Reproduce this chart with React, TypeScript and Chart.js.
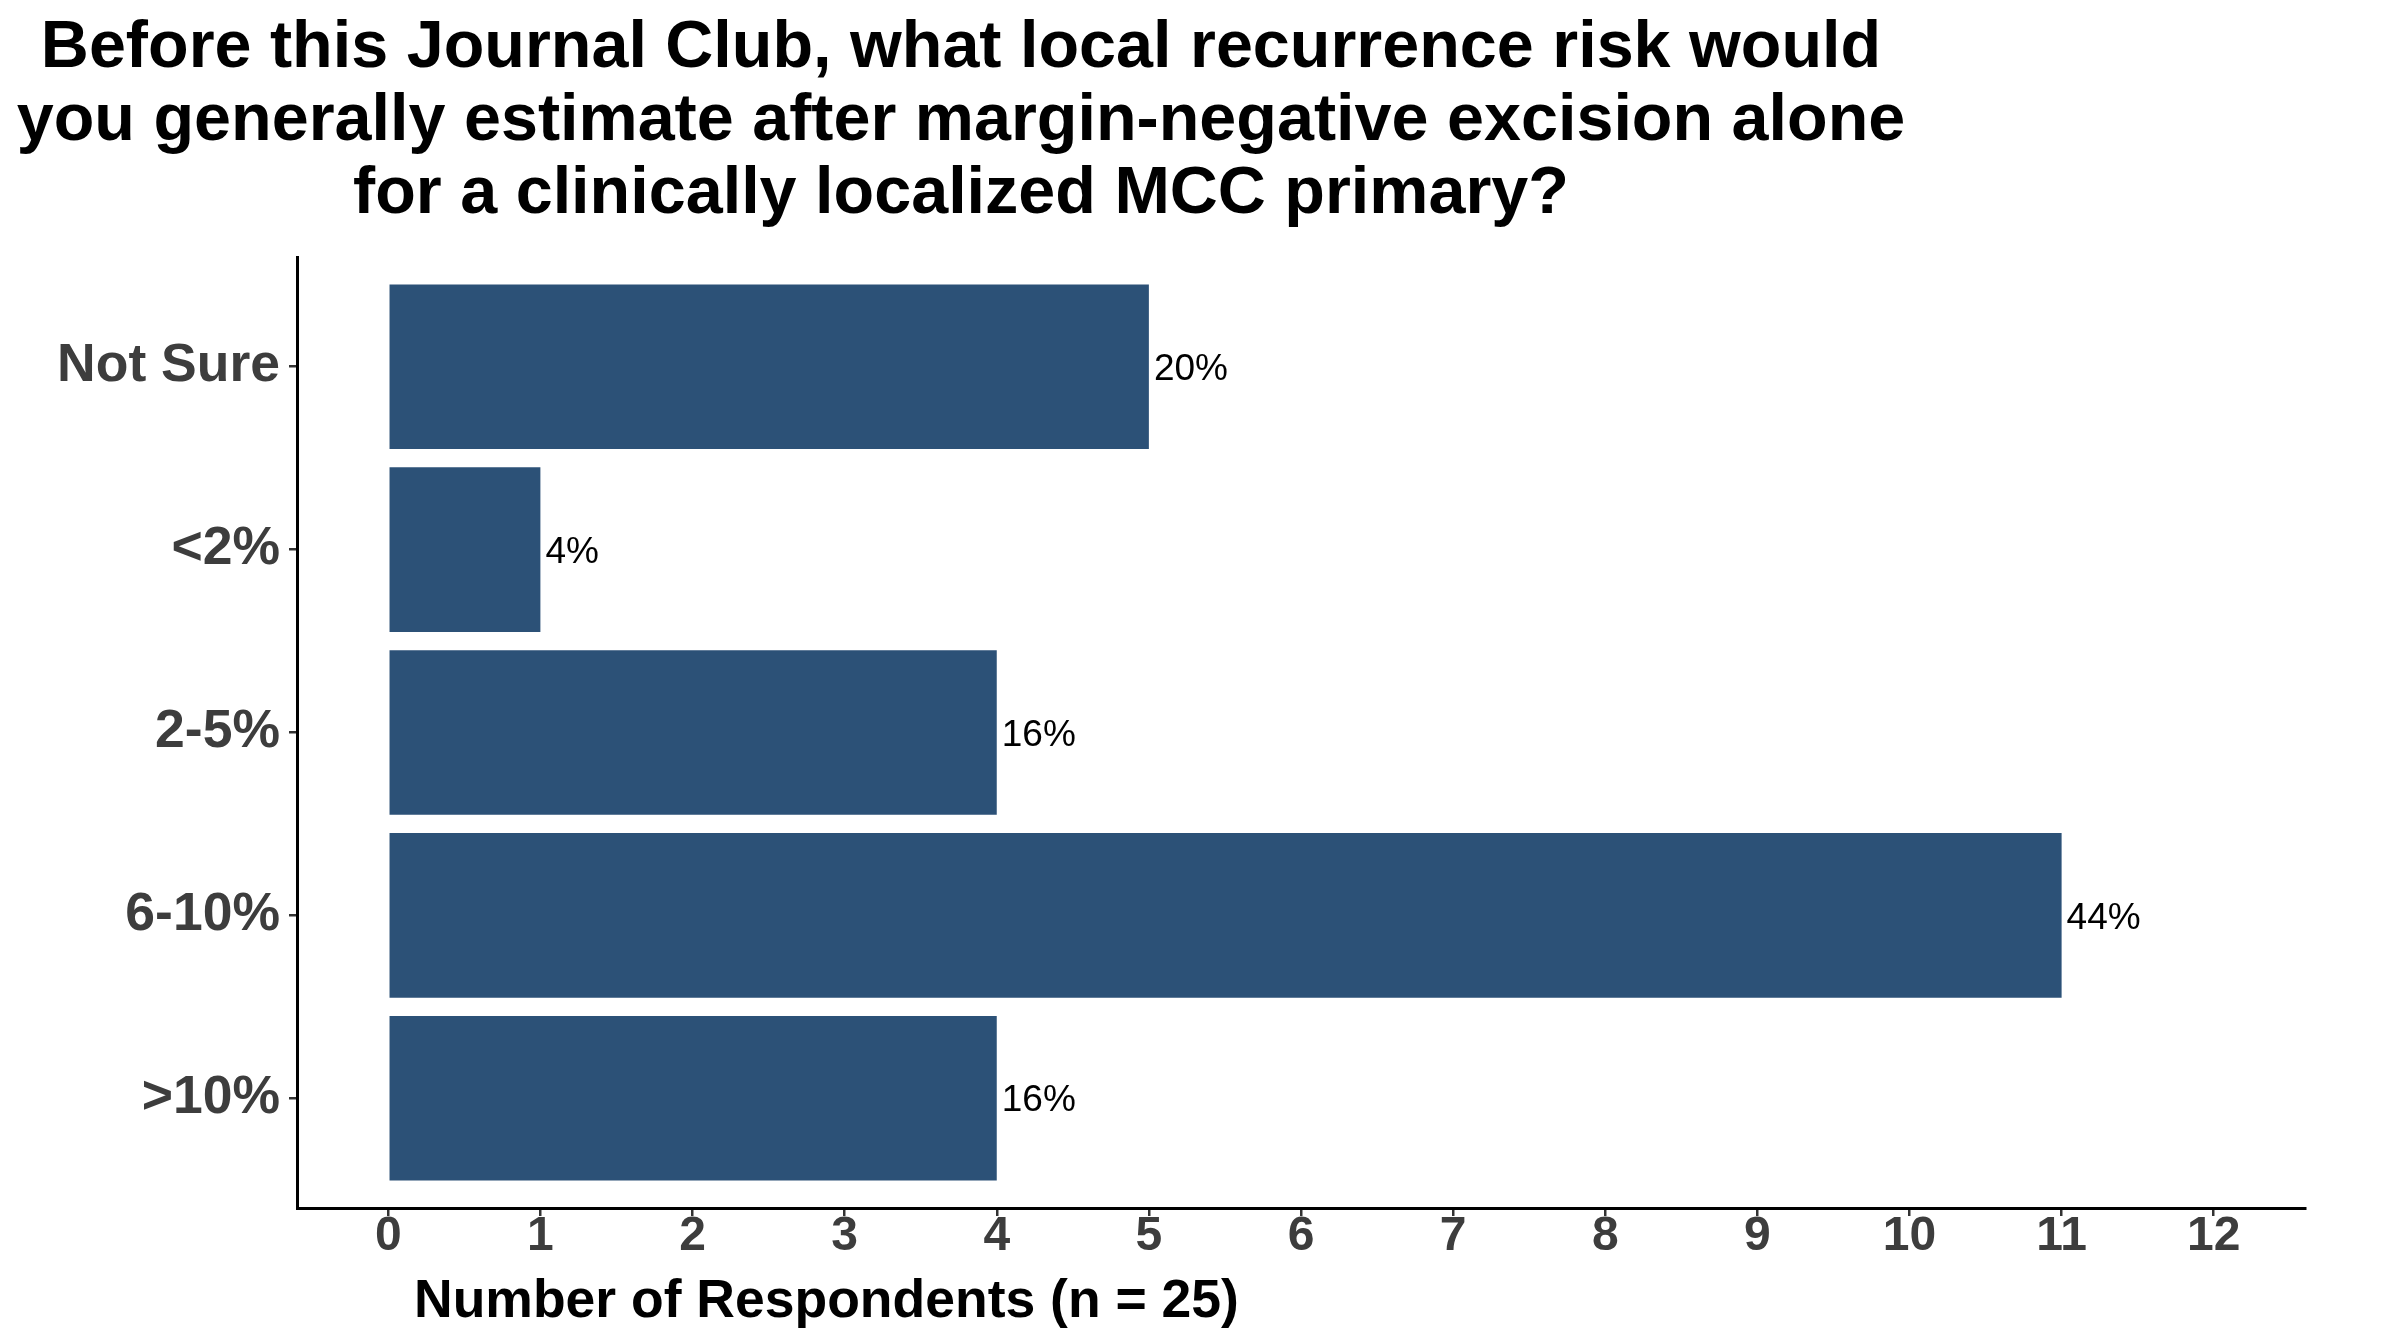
import { useEffect, useRef } from 'react'
import { Chart, registerables } from 'chart.js'

Chart.register(...registerables)

const FONT = '"Liberation Sans", Arial, Helvetica, sans-serif'

const titleLines = [
  'Before this Journal Club, what local recurrence risk would',
  'you generally estimate after margin-negative excision alone',
  'for a clinically localized MCC primary?'
]
const xTitle = 'Number of Respondents (n = 25)'
const totalRespondents = 25

const categories = ['Not Sure', '<2%', '2-5%', '6-10%', '>10%']
const counts = [5, 1, 4, 11, 4]
const xTicks = [0, 1, 2, 3, 4, 5, 6, 7, 8, 9, 10, 11, 12]

const textPlugin = {
  id: 'textPlugin',
  afterDatasetsDraw(chart) {
    const ctx = chart.ctx
    const meta = chart.getDatasetMeta(0)
    ctx.save()
    ctx.font = `37px ${FONT}`
    ctx.fillStyle = '#000'
    ctx.textAlign = 'left'
    ctx.textBaseline = 'middle'
    meta.data.forEach((bar, i) => {
      const pct = Math.round((counts[i] / totalRespondents) * 100) + '%'
      ctx.fillText(pct, bar.x + 5, bar.y + 3)
    })
    ctx.restore()
  },
  afterDraw(chart) {
    const ctx = chart.ctx
    ctx.save()
    ctx.fillStyle = '#000'
    ctx.textBaseline = 'alphabetic'
    ctx.font = `bold 66.5px ${FONT}`
    ctx.textAlign = 'center'
    titleLines.forEach((line, i) => {
      ctx.fillText(line, 961, 67 + i * 73)
    })
    ctx.font = `bold 53.5px ${FONT}`
    ctx.textAlign = 'left'
    ctx.fillText(xTitle, 414, 1317)
    ctx.restore()
  }
}

export default function App() {
  const canvasRef = useRef(null)

  useEffect(() => {
    const ctx = canvasRef.current.getContext('2d')
    const chart = new Chart(ctx, {
      type: 'bar',
      data: {
        datasets: [
          {
            data: categories.map((c, i) => ({ x: counts[i], y: i + 1 })),
            backgroundColor: '#2c5177',
            borderWidth: 0,
            barPercentage: 0.9,
            categoryPercentage: 1
          }
        ]
      },
      options: {
        indexAxis: 'y',
        animation: false,
        responsive: false,
        devicePixelRatio: 1,
        layout: { padding: { left: 0, top: 257, right: 95, bottom: 0 } },
        plugins: {
          legend: { display: false },
          tooltip: { enabled: false },
          title: { display: false }
        },
        scales: {
          x: {
            type: 'linear',
            position: 'bottom',
            min: -0.6,
            max: 12.6,
            afterBuildTicks: (scale) => {
              scale.ticks = xTicks.map((v) => ({ value: v }))
            },
            afterFit: (scale) => {
              scale.height = 136
            },
            grid: {
              drawOnChartArea: false,
              drawTicks: true,
              tickLength: 8,
              color: '#333333',
              lineWidth: 2.5
            },
            border: { display: true, color: '#000', width: 3 },
            ticks: {
              color: '#3d3d3d',
              font: { family: FONT, size: 48, weight: 'bold' },
              padding: -8,
              maxRotation: 0,
              autoSkip: false
            }
          },
          y: {
            type: 'linear',
            reverse: true,
            offset: false,
            min: 0.4,
            max: 5.6,
            afterBuildTicks: (scale) => {
              scale.ticks = categories.map((c, i) => ({ value: i + 1 }))
            },
            afterFit: (scale) => {
              scale.width = 297
            },
            grid: {
              offset: false,
              drawOnChartArea: false,
              drawTicks: true,
              tickLength: 8,
              color: '#333333',
              lineWidth: 2.5
            },
            border: { display: true, color: '#000', width: 3 },
            ticks: {
              color: '#3d3d3d',
              font: { family: FONT, size: 53.5, weight: 'bold' },
              padding: 9,
              autoSkip: false,
              callback: (value) => categories[value - 1]
            }
          }
        }
      },
      plugins: [textPlugin]
    })

    return () => chart.destroy()
  }, [])

  return (
    <div style={{ position: 'fixed', left: 0, top: 0, width: 2400, height: 1344, background: '#fff' }}>
      <canvas ref={canvasRef} width={2400} height={1344} style={{ width: 2400, height: 1344 }}></canvas>
    </div>
  )
}
